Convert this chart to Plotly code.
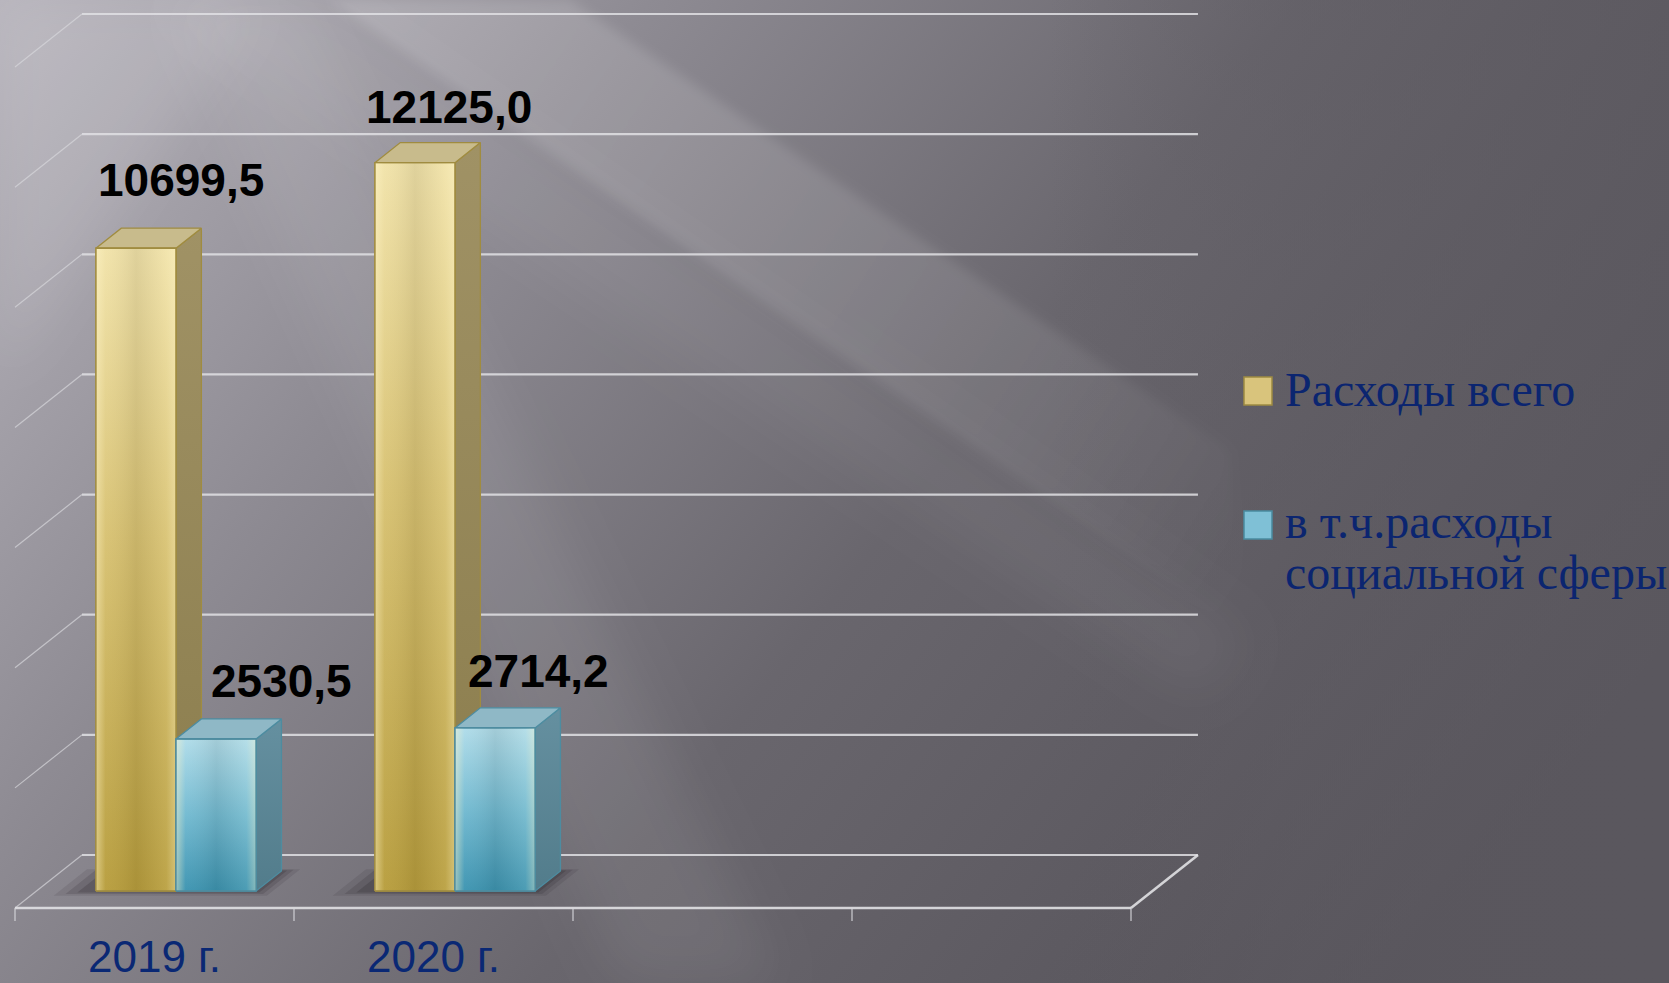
import base64
import plotly.graph_objects as go

# ---------------- data ----------------
categories = ["2019 г.", "2020 г."]
total_spend = [10699.5, 12125.0]
social_spend = [2530.5, 2714.2]
total_text = ["10699,5", "12125,0"]
social_text = ["2530,5", "2714,2"]
series_names = ["Расходы всего", "в т.ч.расходы", "социальной сферы"]
grid_values = [0, 2000, 4000, 6000, 8000, 10000, 12000, 14000]
n_slots = 4

# ---------------- geometry / style ----------------
W, H = 1669, 983
PX_X0, SLOT = 15.0, 279.0          # pixel of x=0 and pixels per category slot
PX_Y0, K = 908.0, 0.06007          # pixel of value 0 (front) and pixels per unit
x_range = [(0 - PX_X0) / SLOT, (W - PX_X0) / SLOT]
y_range = [(PX_Y0 - H) / K, PX_Y0 / K]
DX = 0.24                          # depth offset in slot units
DY = 53.0 / K                      # depth offset in value units
Z_F, Z_B = 0.321, 0.70             # bar front/back depth
BAR_W = 0.287
TICK_LEN = 13.0 / K

def P(x, v, z):
    return x + z * DX, v + z * DY

fig = go.Figure()

def line_trace(segs, color, width):
    xs, ys = [], []
    for (a, b) in segs:
        xs += [a[0], b[0], None]
        ys += [a[1], b[1], None]
    fig.add_trace(go.Scatter(x=xs, y=ys, mode="lines", hoverinfo="skip",
                             line=dict(color=color, width=width), showlegend=False))

def poly(pts, fill=None, grad=None, line_color="rgba(0,0,0,0)", lw=0):
    xs = [p[0] for p in pts] + [pts[0][0]]
    ys = [p[1] for p in pts] + [pts[0][1]]
    kw = dict(x=xs, y=ys, mode="lines", fill="toself", hoverinfo="skip",
              line=dict(color=line_color, width=lw), showlegend=False)
    if grad is not None:
        kw["fillgradient"] = grad
    else:
        kw["fillcolor"] = fill
    fig.add_trace(go.Scatter(**kw))

# ---------------- walls / grid ----------------
x_end = float(n_slots)
back_lines = [(P(0, v, 1), P(x_end, v, 1)) for v in grid_values]
line_trace(back_lines, "rgba(225,225,228,0.85)", 2.2)
side_lines = [(P(0, v, 0), P(0, v, 1)) for v in grid_values]
line_trace(side_lines, "rgba(215,215,220,0.7)", 1.2)
floor_lines = [(P(0, 0, 0), P(x_end, 0, 0)), (P(x_end, 0, 0), P(x_end, 0, 1))]
line_trace(floor_lines, "rgba(225,225,228,0.9)", 2.6)
ticks = [((float(i), 0.0), (float(i), -TICK_LEN)) for i in range(n_slots + 1)]
line_trace(ticks, "rgba(215,215,220,0.85)", 1.3)

# ---------------- bars ----------------
gold = dict(front=[[0, "#b69c3c"], [0.55, "#d7c172"], [1, "#f1e3ab"]],
            side=[[0, "#8a7c4c"], [1, "#a09265"]], top="#c8bb8c", edge="#a08c40")
blue = dict(front=[[0, "#3892b2"], [0.5, "#6fb9d3"], [1, "#aedcec"]],
            side=[[0, "#527c8b"], [1, "#6590a0"]], top="#8fb8c6", edge="#4d8ca0")
sheen = [[0, "rgba(255,245,200,0.50)"], [0.12, "rgba(255,245,200,0.05)"],
         [0.5, "rgba(60,50,20,0.10)"], [0.88, "rgba(255,245,200,0.10)"],
         [1, "rgba(255,245,200,0.40)"]]

def shadow(xl, xr):
    for grow, a in [(0.10, 0.10), (0.065, 0.14), (0.03, 0.18)]:
        pts = [P(xl - grow - 0.03, 0, Z_F - grow * 0.9), P(xr + grow * 0.6, 0, Z_F - grow * 0.9),
               P(xr + grow * 0.6, 0, Z_B + grow * 0.3), P(xl - grow - 0.03, 0, Z_B + grow * 0.3)]
        poly(pts, fill=f"rgba(25,22,28,{a})")

def bar(x0, v, st):
    x1 = x0 + BAR_W
    front = [P(x0, 0, Z_F), P(x1, 0, Z_F), P(x1, v, Z_F), P(x0, v, Z_F)]
    side = [P(x1, 0, Z_F), P(x1, 0, Z_B), P(x1, v, Z_B), P(x1, v, Z_F)]
    top = [P(x0, v, Z_F), P(x1, v, Z_F), P(x1, v, Z_B), P(x0, v, Z_B)]
    poly(side, grad=dict(type="vertical", colorscale=st["side"]), line_color=st["edge"], lw=1.3)
    poly(top, fill=st["top"], line_color=st["edge"], lw=1.3)
    poly(front, grad=dict(type="vertical", colorscale=st["front"]), line_color=st["edge"], lw=1.3)
    poly(front, grad=dict(type="horizontal", colorscale=sheen))
    poly(front, fill="rgba(0,0,0,0)", line_color=st["edge"], lw=1.3)

for i in range(len(categories)):
    xl = i + 0.5 - BAR_W
    shadow(xl, xl + 2 * BAR_W)
for i in range(len(categories)):
    xl = i + 0.5 - BAR_W
    bar(xl, total_spend[i], gold)
    bar(xl + BAR_W, social_spend[i], blue)

# ---------------- data labels ----------------
label_font = dict(family="Liberation Sans, Arial, sans-serif", size=46, color="#000000")
gold_shift = [(20, 48), (9, 36)]
blue_shift = [(40, 38), (18, 37)]
ann = []
for i in range(len(categories)):
    xl = i + 0.5 - BAR_W
    for xb, v, txt, sh in [(xl, total_spend[i], total_text[i], gold_shift[i]),
                           (xl + BAR_W, social_spend[i], social_text[i], blue_shift[i])]:
        cx, cy = P(xb + BAR_W / 2, v, Z_B)
        ann.append(dict(x=cx, y=cy, xref="x", yref="y", text=f"<b>{txt}</b>", showarrow=False,
                        xanchor="center", yanchor="middle", xshift=sh[0], yshift=sh[1], font=label_font))

# category labels
for i, c in enumerate(categories):
    ann.append(dict(x=i + 0.5, y=0, xref="x", yref="y", text=c, showarrow=False,
                    xanchor="center", yanchor="bottom", yshift=-75,
                    font=dict(family="Liberation Sans, Arial, sans-serif", size=44, color="#0a2874")))

# ---------------- legend (custom) ----------------
leg_font = dict(family="Liberation Serif, Times New Roman, serif", size=48, color="#0b2570")
leg_lines = [(series_names[0], 389), (series_names[1], 521), (series_names[2], 572)]
for txt, ypx in leg_lines:
    ann.append(dict(x=1283 / W, y=1 - ypx / H, xref="paper", yref="paper", text=txt, showarrow=False,
                    xanchor="left", yanchor="middle", font=leg_font))

shapes = []
for (yc, fc, lc) in [(391, "#d9c47c", "#9d8a42"), (525, "#7fc0d6", "#4a8ba0")]:
    shapes.append(dict(type="rect", xref="paper", yref="paper", x0=1244 / W, x1=1272 / W,
                       y0=1 - (yc + 14) / H, y1=1 - (yc - 14) / H, fillcolor=fc,
                       line=dict(color=lc, width=1.5), layer="above"))

# ---------------- background (svg gradient image) ----------------
svg = f"""<svg xmlns='http://www.w3.org/2000/svg' width='{W}' height='{H}' viewBox='0 0 {W} {H}'>
<defs>
<linearGradient id='g' gradientUnits='userSpaceOnUse' x1='0' y1='0' x2='1350' y2='1050'>
<stop offset='0' stop-color='#b7b4bc'/><stop offset='0.3' stop-color='#8e8b93'/>
<stop offset='0.6' stop-color='#69666d'/><stop offset='1' stop-color='#545158'/></linearGradient>
<linearGradient id='r' gradientUnits='userSpaceOnUse' x1='1050' y1='0' x2='1669' y2='0'>
<stop offset='0' stop-color='#5f5c63' stop-opacity='0'/><stop offset='0.4' stop-color='#5f5c63' stop-opacity='0.45'/>
<stop offset='1' stop-color='#5c5960' stop-opacity='0.75'/></linearGradient>
<linearGradient id='bm' gradientUnits='userSpaceOnUse' x1='400' y1='0' x2='1260' y2='560'>
<stop offset='0' stop-color='#ffffff' stop-opacity='0.15'/><stop offset='0.7' stop-color='#ffffff' stop-opacity='0.09'/>
<stop offset='1' stop-color='#ffffff' stop-opacity='0'/></linearGradient>
<filter id='b' x='-50%' y='-50%' width='200%' height='200%'><feGaussianBlur stdDeviation='26'/></filter>
<filter id='b2' x='-50%' y='-50%' width='200%' height='200%'><feGaussianBlur stdDeviation='6'/></filter>
</defs>
<rect width='{W}' height='{H}' fill='url(#g)'/>
<rect width='{W}' height='{H}' fill='url(#r)'/>
<polygon points='330,0 570,0 1230,450 1250,640' fill='url(#bm)' filter='url(#b2)'/>
<polygon points='150,0 330,0 1250,640 1200,700' fill='#ffffff' fill-opacity='0.05' filter='url(#b)'/>
<polygon points='170,0 300,0 780,983 620,983' fill='#ffffff' fill-opacity='0.07' filter='url(#b)'/>
<polygon points='0,0 260,0 0,380' fill='#ffffff' fill-opacity='0.10' filter='url(#b)'/>
</svg>"""
bg_src = "data:image/svg+xml;base64," + base64.b64encode(svg.encode("utf-8")).decode("ascii")

fig.update_layout(
    width=W, height=H, margin=dict(l=0, r=0, t=0, b=0, pad=0),
    paper_bgcolor="#6b686f", plot_bgcolor="rgba(0,0,0,0)",
    xaxis=dict(range=x_range, visible=False, fixedrange=True),
    yaxis=dict(range=y_range, visible=False, fixedrange=True),
    showlegend=False, annotations=ann, shapes=shapes,
    images=[dict(source=bg_src, xref="paper", yref="paper", x=0, y=1, sizex=1, sizey=1,
                 xanchor="left", yanchor="top", sizing="stretch", layer="below")],
)

fig.write_html("out.html", config={"displayModeBar": False},
               post_script="document.body.style.margin='0';document.body.style.overflow='hidden';")
